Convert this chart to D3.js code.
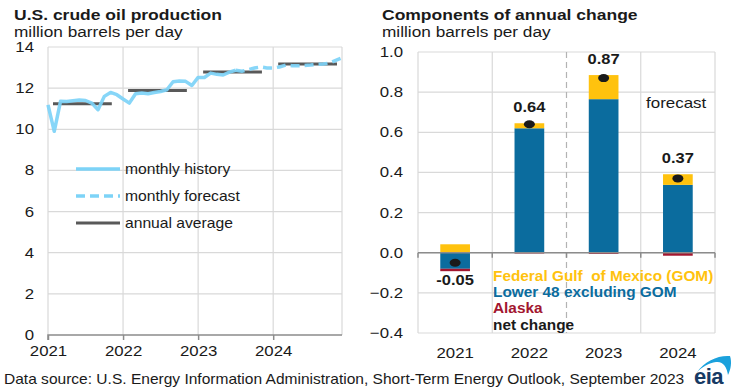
<!DOCTYPE html>
<html><head><meta charset="utf-8">
<script src="https://cdn.jsdelivr.net/npm/d3@7/dist/d3.min.js"></script>
<style>body{margin:0;background:#fff;}svg{display:block;font-family:"Liberation Sans",Arial,sans-serif;}</style>
</head><body>
<script>
// ---- Left chart data ----
const monthsHistory = [11.19,9.9,11.36,11.35,11.39,11.42,11.4,11.27,10.95,11.6,11.79,11.68,
  11.47,11.27,11.73,11.76,11.73,11.79,11.84,11.92,12.31,12.35,12.33,12.13,
  12.52,12.52,12.73,12.67,12.64,12.78,12.87];
const monthsForecast = [12.87,12.82,12.9,12.98,13.03,12.98,
  12.98,13.03,13.12,13.09,13.09,13.1,13.12,13.16,13.17,13.22,13.35,13.47];
const forecastStart = 30; // month index where forecast begins
const annualYears = [2021,2022,2023,2024];
const annualAvg = [11.24,11.89,12.78,13.17];
const leftYTicks = [0,2,4,6,8,10,12,14];
const leftXTickLabels = ["2021","2022","2023","2024"];
const leftLegend = ["monthly history","monthly forecast","annual average"];

// ---- Right chart data ----
const categories = ["2021","2022","2023","2024"];
const gom = [0.042,0.025,0.12,0.053];
const lower48 = [-0.08,0.62,0.765,0.338];
const alaska = [-0.012,-0.004,-0.006,-0.015];
const netChange = [-0.05,0.64,0.87,0.37];
const netLabels = ["-0.05","0.64","0.87","0.37"];
const rightYTicks = [-0.4,-0.2,0.0,0.2,0.4,0.6,0.8,1.0];
const rightLegend = ["Federal Gulf  of Mexico (GOM)","Lower 48 excluding GOM","Alaska","net change"];

const C = {grid:"#d9d9d9", axis:"#8c8c8c", text:"#1a1a1a", hist:"#7dd3f7", avg:"#595959",
  gom:"#ffc20e", l48:"#0b6c9e", ak:"#a3162f"};
const SX = 1.12; // horizontal text stretch seen in the reference

const svg = d3.select("body").append("svg").attr("width",733).attr("height",390);

function txt(g, x, y, s, o={}){
  const t = g.append("text").attr("transform",`translate(${x},${y}) scale(${o.sx||SX},1)`)
    .attr("font-size",o.size||14.5).attr("fill",o.fill||C.text).attr("text-anchor",o.anchor||"start")
    .style("white-space","pre").text(s);
  if(o.bold) t.attr("font-weight","bold");
  return t;
}

// ===== Left chart =====
const xL = d3.scaleLinear().domain([0,47]).range([48,342]);
const yL = d3.scaleLinear().domain([0,14]).range([335,47]);
const L = svg.append("g");
txt(L,14,20,"U.S. crude oil production",{size:15.5,bold:true,sx:1.13});
txt(L,14,37,"million barrels per day",{size:15,sx:1.15});
// grid
L.selectAll(".hg").data(leftYTicks.filter(d=>d>0)).join("line")
  .attr("x1",48).attr("x2",342).attr("y1",d=>yL(d)).attr("y2",d=>yL(d)).attr("stroke",C.grid).attr("stroke-width",1.2);
L.selectAll(".vg").data([12,24,36,47]).join("line")
  .attr("x1",d=>xL(d)).attr("x2",d=>xL(d)).attr("y1",yL(14)).attr("y2",yL(0)).attr("stroke",C.grid).attr("stroke-width",1.2);
L.append("line").attr("x1",48).attr("x2",48).attr("y1",yL(14)).attr("y2",yL(0)).attr("stroke",C.grid).attr("stroke-width",1.2);
// y labels
leftYTicks.forEach(d=>txt(L,34,yL(d)+5,String(d),{anchor:"end",size:15}));
// x axis
const xAxL = d3.axisBottom(xL).tickValues([0,12,24,36]).tickSize(5).tickFormat((d,i)=>leftXTickLabels[i]);
const gx = L.append("g").attr("transform",`translate(0,${yL(0)})`).call(xAxL);
gx.select(".domain").attr("stroke",C.axis).attr("stroke-width",1.5).attr("d",`M48,5V0H342`);
gx.selectAll(".tick line").attr("stroke",C.axis).attr("stroke-width",1.5);
gx.selectAll(".tick text").attr("font-size",15).attr("fill",C.text).attr("dy","0.9em")
  .attr("transform",`scale(${SX},1)`).attr("font-family","Liberation Sans, Arial, sans-serif");
// annual averages
L.selectAll(".avg").data(annualAvg).join("line")
  .attr("x1",(d,i)=>xL(i*12+0.8)).attr("x2",(d,i)=>xL(i*12+10.2))
  .attr("y1",d=>yL(d)).attr("y2",d=>yL(d)).attr("stroke",C.avg).attr("stroke-width",3);
// lines
const line = d3.line().x(d=>xL(d[0])).y(d=>yL(d[1]));
L.append("path").datum(monthsHistory.map((v,i)=>[i,v])).attr("d",line).attr("fill","none")
  .attr("stroke",C.hist).attr("stroke-width",3.5).attr("stroke-linejoin","round").attr("opacity",0.92);
L.append("path").datum(monthsForecast.map((v,i)=>[i+forecastStart,v])).attr("d",line).attr("fill","none")
  .attr("stroke",C.hist).attr("stroke-width",3.5).attr("stroke-dasharray","9,5").attr("opacity",0.92);
// legend
const lg = L.append("g");
leftLegend.forEach((t,i)=>{
  const y = 169 + i*27;
  const ln = lg.append("line").attr("x1",76).attr("x2",120).attr("y1",y).attr("y2",y);
  if(i===0) ln.attr("stroke",C.hist).attr("stroke-width",3.5);
  if(i===1) ln.attr("stroke",C.hist).attr("stroke-width",3.5).attr("stroke-dasharray","9,5");
  if(i===2) ln.attr("stroke",C.avg).attr("stroke-width",3);
  txt(lg,125,y+5,t,{size:14.5,sx:1.08});
});

// ===== Right chart =====
const xR = d3.scaleBand().domain(categories).range([418,715]).paddingInner(0.6).paddingOuter(0.3);
const yR = d3.scaleLinear().domain([-0.4,1.0]).range([333,52]);
const R = svg.append("g");
txt(R,382,20,"Components of annual change",{size:15.5,bold:true,sx:1.13});
txt(R,382,37,"million barrels per day",{size:15,sx:1.15});
const step = xR.step();
const bounds = categories.map(c=>xR(c)-xR.paddingInner()*step/2);
bounds[0] = 418; bounds.push(715);
R.selectAll(".hg").data(rightYTicks).join("line")
  .attr("x1",418).attr("x2",715).attr("y1",d=>yR(d)).attr("y2",d=>yR(d)).attr("stroke",C.grid).attr("stroke-width",1.2);
R.selectAll(".vg").data(bounds).join("line")
  .attr("x1",d=>d).attr("x2",d=>d).attr("y1",yR(1.0)).attr("y2",yR(-0.4))
  .attr("stroke",(d,i)=>i===2?"#b3b3b3":C.grid).attr("stroke-width",1.2)
  .attr("stroke-dasharray",(d,i)=>i===2?"6,4":null);
rightYTicks.forEach(d=>txt(R,403,yR(d)+5,d3.format(".1f")(d),{anchor:"end",size:15}));
// x labels
categories.forEach(d=>txt(R,xR(d)+xR.bandwidth()/2,358,d,{anchor:"middle",size:15}));
// bars
categories.forEach((c,i)=>{
  const x0 = xR(c), w = xR.bandwidth();
  let pos=0, neg=0;
  [[lower48[i],C.l48],[gom[i],C.gom],[alaska[i],C.ak]].forEach(([v,col])=>{
    let a,b;
    if(v>=0){a=pos;b=pos+v;pos=b;} else {a=neg;b=neg+v;neg=b;}
    R.append("rect").attr("x",x0).attr("width",w).attr("y",yR(Math.max(a,b))).attr("height",Math.abs(yR(a)-yR(b))).attr("fill",col);
  });
});
// zero axis
R.append("line").attr("x1",418).attr("x2",715).attr("y1",yR(0)).attr("y2",yR(0)).attr("stroke",C.axis).attr("stroke-width",1.5);
R.selectAll(".zt").data(bounds).join("line").attr("x1",d=>d).attr("x2",d=>d).attr("y1",yR(0)).attr("y2",yR(0)+5)
  .attr("stroke",C.axis).attr("stroke-width",1.5);
// net change dots and labels
categories.forEach((c,i)=>{
  const cx = xR(c)+xR.bandwidth()/2;
  R.append("ellipse").attr("cx",cx).attr("cy",yR(netChange[i])).attr("rx",5.5).attr("ry",4).attr("fill","#1a1a1a");
  let top = Math.max(0,lower48[i])+Math.max(0,gom[i])+Math.max(0,alaska[i]);
  let bot = Math.min(0,lower48[i])+Math.min(0,gom[i])+Math.min(0,alaska[i]);
  const y = netChange[i]>=0 ? yR(Math.max(top,netChange[i]))-11 : yR(bot)+14;
  txt(R,cx,y,netLabels[i],{anchor:"middle",size:15,bold:true,sx:1.1});
});
txt(R,646,108,"forecast",{size:15,sx:1.13});
// legend
const legCols = [C.gom,C.l48,C.ak,C.text];
const legY = [281,297,313,330];
rightLegend.forEach((t,i)=>txt(R,493,legY[i],t,{size:14.5,bold:true,fill:legCols[i],sx:1.06}));

// ===== Footer =====
txt(svg,4,384,"Data source: U.S. Energy Information Administration, Short-Term Energy Outlook, September 2023",{size:14,sx:1.11});
const logo = svg.append("g");
logo.append("path").attr("d","M697,372 C705,361 718,355 730,356 C732,362 731,369 728,375 C727,367 723,361 716,362 C709,363 702,367 697,372 Z").attr("fill","#1ba1dc");
logo.append("text").attr("x",694).attr("y",384).attr("font-size",22).attr("font-weight","bold").attr("fill","#173a64")
  .attr("letter-spacing",-0.5).text("eia");
</script>
</body></html>
